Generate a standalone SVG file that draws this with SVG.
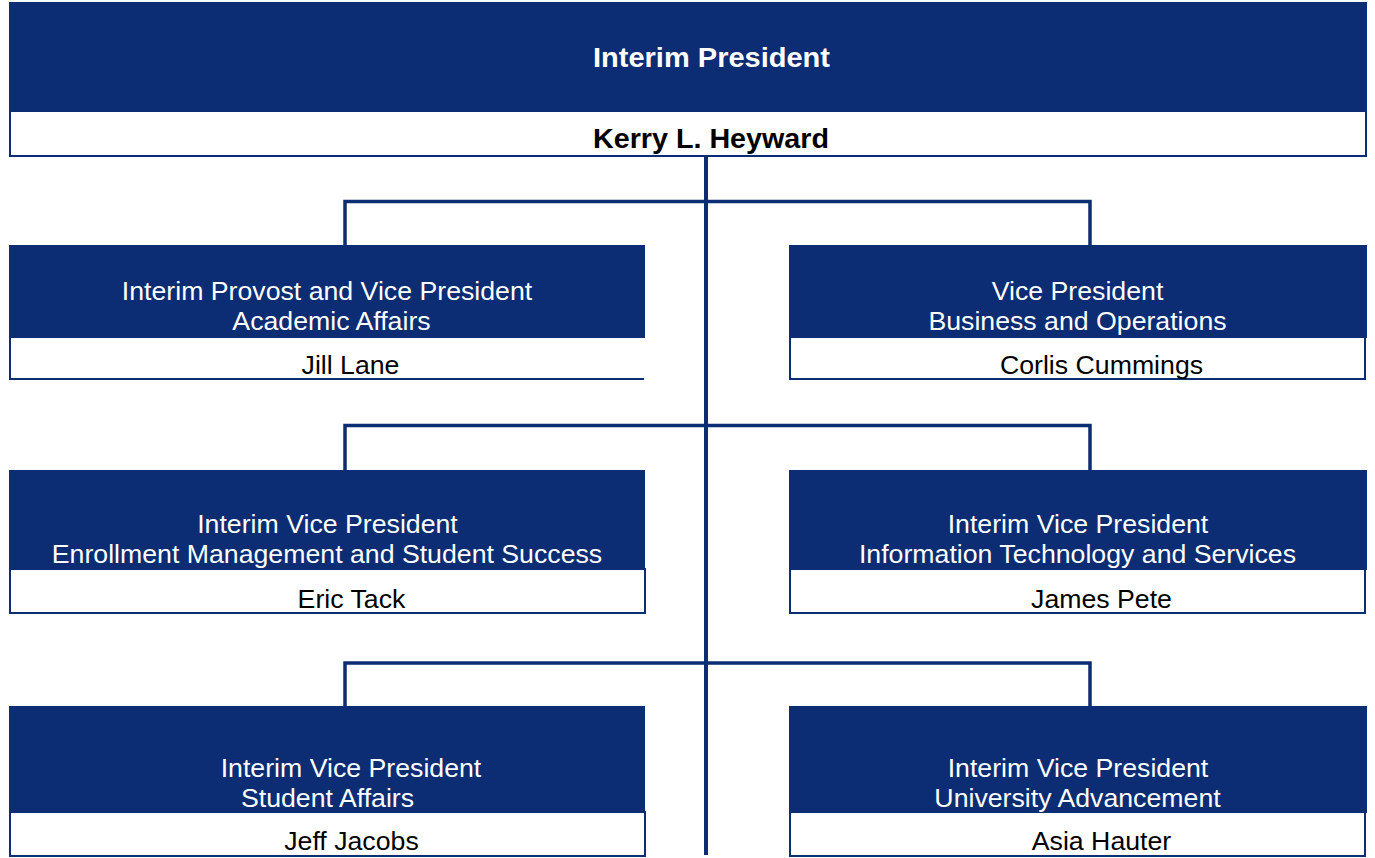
<svg xmlns="http://www.w3.org/2000/svg" width="1375" height="858" viewBox="0 0 1375 858">
<style>
.hd{fill:#0C2C73}
.wb{fill:#fff;stroke:#0C2C73;stroke-width:2}
.ln{stroke:#0C2C73;fill:none}
text{font-family:"Liberation Sans",Arial,sans-serif;text-anchor:middle}
.t{fill:#fff;font-size:26.7px}
.n{fill:#000;font-size:26.7px}
.b{font-weight:bold;font-size:27px}
</style>
<rect width="1375" height="858" fill="#fff"/>
<g id="connectors">
<line class="ln" x1="706" y1="156" x2="706" y2="855" stroke-width="4"/>
<path class="ln" d="M345 246V201.5H1090V246M345 471V425.5H1090V471M345 707V663H1090V707" stroke-width="3.5"/>
</g>
<g id="president">
<rect class="wb" x="10" y="111" width="1356" height="45"/>
<rect class="hd" x="9" y="2" width="1358" height="110"/>
<text class="t b" x="711.5" y="67" textLength="237" lengthAdjust="spacingAndGlyphs">Interim President</text>
<text class="n b" x="711" y="148" textLength="236" lengthAdjust="spacingAndGlyphs">Kerry L. Heyward</text>
</g>
<g id="provost">
<path d="M644 379H10V338" fill="none" stroke="#0C2C73" stroke-width="2"/>
<rect class="hd" x="9" y="245" width="636" height="93"/>
<text class="t" x="327" y="300">Interim Provost and Vice President</text>
<text class="t" x="331.5" y="330">Academic Affairs</text>
<text class="n" x="350.5" y="374">Jill Lane</text>
</g>
<g id="business">
<rect class="wb" x="790" y="337" width="575" height="42"/>
<rect class="hd" x="789" y="245" width="578" height="93"/>
<text class="t" x="1077.5" y="300">Vice President</text>
<text class="t" x="1077.5" y="330">Business and Operations</text>
<text class="n" x="1101.5" y="374">Corlis Cummings</text>
</g>
<g id="enrollment">
<rect class="wb" x="10" y="569" width="635" height="44"/>
<rect class="hd" x="9" y="470" width="636" height="100"/>
<text class="t" x="327.5" y="533">Interim Vice President</text>
<text class="t" x="327" y="563">Enrollment Management and Student Success</text>
<text class="n" x="351.5" y="608">Eric Tack</text>
</g>
<g id="it">
<rect class="wb" x="790" y="569" width="575" height="44"/>
<rect class="hd" x="789" y="470" width="578" height="100"/>
<text class="t" x="1078" y="533">Interim Vice President</text>
<text class="t" x="1077.5" y="563">Information Technology and Services</text>
<text class="n" x="1101.5" y="608">James Pete</text>
</g>
<g id="student-affairs">
<rect class="wb" x="10" y="812" width="635" height="44"/>
<rect class="hd" x="9" y="706" width="636" height="107"/>
<text class="t" x="351" y="777">Interim Vice President</text>
<text class="t" x="327.5" y="807">Student Affairs</text>
<text class="n" x="351.5" y="850">Jeff Jacobs</text>
</g>
<g id="advancement">
<rect class="wb" x="790" y="812" width="575" height="44"/>
<rect class="hd" x="789" y="706" width="578" height="107"/>
<text class="t" x="1078" y="777">Interim Vice President</text>
<text class="t" x="1077.5" y="807">University Advancement</text>
<text class="n" x="1101.5" y="850">Asia Hauter</text>
</g>
</svg>
